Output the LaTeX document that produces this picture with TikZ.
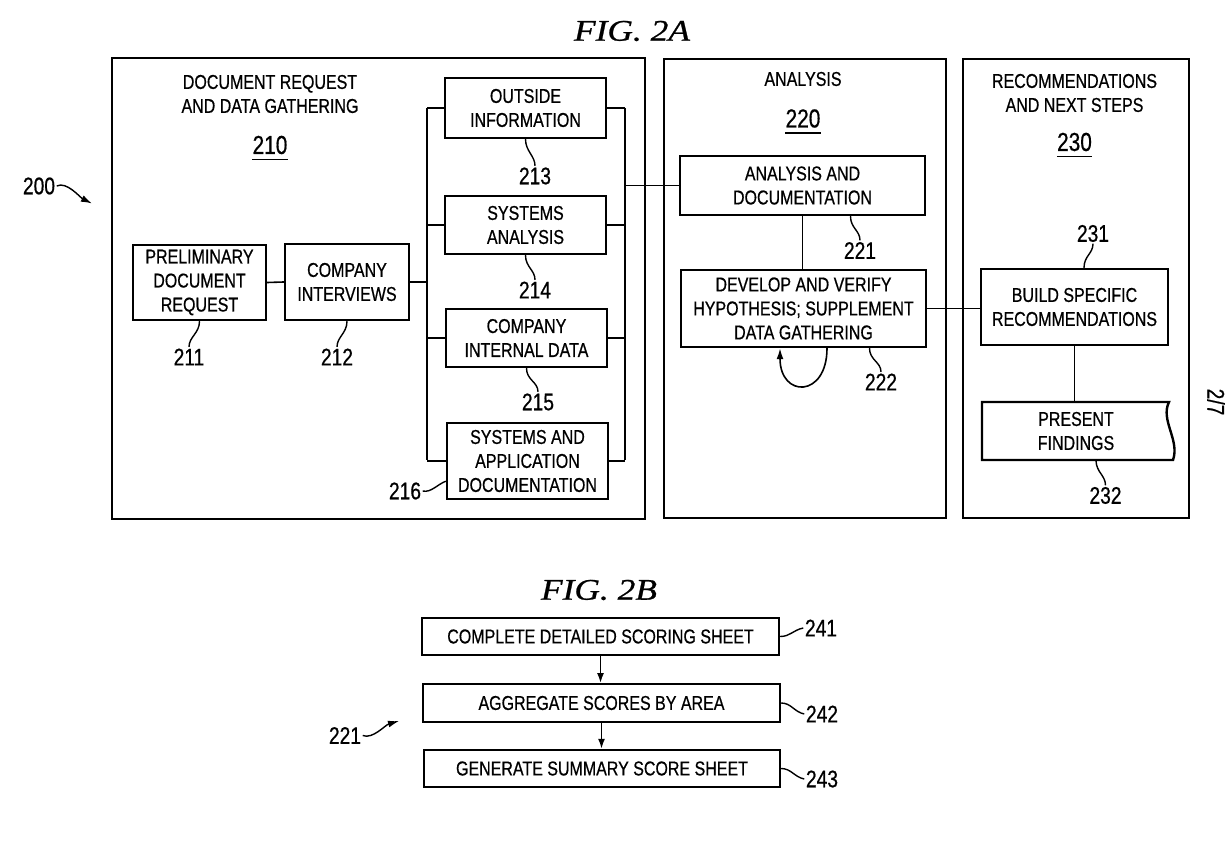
\documentclass[tikz,border=0pt]{standalone}
\usepackage{fontspec}
\setmainfont{Liberation Sans}[FakeStretch=0.8,FakeBold=0.6]
\newfontfamily\figfont{Liberation Serif}[FakeStretch=1.18,FakeBold=0.8]
\usetikzlibrary{arrows.meta,calc}
\begin{document}
\begin{tikzpicture}[x=1pt,y=-1pt,
  txt/.style={font=\fontsize{20}{24}\selectfont, align=center},
  box/.style={txt, draw, line width=2.4pt, inner sep=0pt},
  outer/.style={draw, line width=2.8pt},
  lbl/.style={font=\fontsize{24}{28}\selectfont, inner sep=1.5pt},
  ulbl/.style={font=\fontsize{26}{30}\selectfont, inner sep=0pt},
  conn/.style={line width=1.6pt},
  lead/.style={line width=1.4pt},
  tip/.style={-{Latex[length=10pt,width=7pt]}},
  fig/.style={font=\figfont\itshape\fontsize{30}{34}\selectfont, inner sep=0pt}]
\useasboundingbox (0,0) rectangle (1230,858);
\fill[white] (0,0) rectangle (1230,858);

% ---------- FIG. 2A ----------
\node[fig] (fig2a) at (632,31) {FIG. 2A};

\draw[outer] (112,58) rectangle (645,519);
\draw[outer] (664,59) rectangle (946,518);
\draw[outer] (963,59) rectangle (1189,518);

% column 210
\node[txt] (h210) at (270,94) {DOCUMENT REQUEST\\AND DATA GATHERING};
\node[ulbl] (n210) at (270,145) {210};
\draw[conn] ([yshift=-5pt]n210.south west) -- ([yshift=-5pt]n210.south east);

\node[box, minimum width=133, minimum height=75] (b211) at (199.5,282.5) {PRELIMINARY\\DOCUMENT\\REQUEST};
\node[box, minimum width=124, minimum height=76] (b212) at (347,282) {COMPANY\\INTERVIEWS};
\node[box, minimum width=161, minimum height=60] (b213) at (525.5,108) {OUTSIDE\\INFORMATION};
\node[box, minimum width=161, minimum height=58] (b214) at (525.5,225) {SYSTEMS\\ANALYSIS};
\node[box, minimum width=161, minimum height=58] (b215) at (526.5,338) {COMPANY\\INTERNAL DATA};
\node[box, minimum width=161, minimum height=76] (b216) at (527.5,461) {SYSTEMS AND\\APPLICATION\\DOCUMENTATION};

% column 220
\node[txt] (h220) at (803,79) {ANALYSIS};
\node[ulbl] (n220) at (803,118.5) {220};
\draw[conn] ([yshift=-5pt]n220.south west) -- ([yshift=-5pt]n220.south east);
\node[box, minimum width=245, minimum height=59] (b221) at (802.5,185.5) {ANALYSIS AND\\DOCUMENTATION};
\node[box, minimum width=245, minimum height=77] (b222) at (803.5,308.5) {DEVELOP AND VERIFY\\HYPOTHESIS; SUPPLEMENT\\DATA GATHERING};

% column 230
\node[txt] (h230) at (1074.5,93) {RECOMMENDATIONS\\AND NEXT STEPS};
\node[ulbl] (n230) at (1074.5,142) {230};
\draw[conn] ([yshift=-5pt]n230.south west) -- ([yshift=-5pt]n230.south east);
\node[box, minimum width=187, minimum height=76] (b231) at (1074.5,307) {BUILD SPECIFIC\\RECOMMENDATIONS};
\node[txt, minimum width=188, minimum height=58, inner sep=0pt] (b232) at (1076,431) {PRESENT\\FINDINGS};
\draw[line width=2.4pt] (982,402) -- (1169,402) .. controls (1160,420) and (1180,440) .. (1173,460) -- (982,460) -- cycle;

% bus connectors
\coordinate (lt) at (427,108);
\coordinate (lb) at (427,460);
\coordinate (rt) at (625,108);
\coordinate (rb) at (625,460);
\draw[conn] (b211.east) -- (b212.west);
\draw[conn] (b212.east) -- (b212.east -| lt);
\draw[conn] (lt) -- (lb);
\draw[conn] (rt) -- (rb);
\foreach \b in {b213,b214,b215,b216}{
  \draw[conn] (\b.west) -- (\b.west -| lt);
  \draw[conn] (\b.east) -- (\b.east -| rt);
}
\draw[conn] (b221.west) -- (b221.west -| rt);
\draw[conn] (b221.south) -- (b221.south |- b222.north);
\draw[conn] (b222.east) -- (b222.east -| b231.west);
\draw[conn] (b231.south) -- (b231.south |- b232.north);
\draw[conn, -{Latex[length=11pt,width=7pt]}] ($(b222.south)+(23.5,0)$) .. controls +(0,50) and +(0,50) .. ($(b222.south)+(-23.5,0)$);

% reference labels
\node[lbl] (l211) at (189,357) {211};
\node[lbl] (l212) at (337,357) {212};
\node[lbl] (l213) at (535,176) {213};
\node[lbl] (l214) at (535,290) {214};
\node[lbl] (l215) at (538,402) {215};
\node[lbl] (l216) at (405,491) {216};
\node[lbl] (l221) at (860,250.5) {221};
\node[lbl] (l222) at (881,382) {222};
\node[lbl] (l231) at (1093,233.5) {231};
\node[lbl] (l232) at (1105.5,495.5) {232};
\node[lbl] (l200) at (39,186) {200};
\coordinate (a200) at (92,203.5);

\draw[lead] (b211.south) .. controls +(0,12) and +(0,-10) .. (l211.north);
\draw[lead] (b212.south) .. controls +(0,12) and +(0,-10) .. (l212.north);
\draw[lead] (b213.south) .. controls +(0,12) and +(0,-10) .. (l213.north);
\draw[lead] (b214.south) .. controls +(0,12) and +(0,-10) .. (l214.north);
\draw[lead] (b215.south) .. controls +(0,12) and +(0,-10) .. (l215.north);
\draw[lead] (l216.east) .. controls +(8,2) and +(-8,3) .. ($(b216.south west)+(0,-19)$);
\draw[lead] ($(b221.south)+(48,0)$) .. controls +(0,12) and +(0,-10) .. (l221.north);
\draw[lead] ($(b222.south)+(66,0)$) .. controls +(0,12) and +(0,-10) .. (l222.north);
\draw[lead] (l231.south) .. controls +(0,10) and +(0,-12) .. ($(b231.north)+(9.5,0)$);
\draw[lead] ($(b232.south)+(20,0)$) .. controls +(0,12) and +(0,-10) .. (l232.north);
\draw[lead, -{Latex[length=11pt,width=7pt]}] (l200.east) .. controls +(10,-5) and +(-12,-6) .. (a200);

% page number
\node[lbl, rotate=-90] (pg) at (1216,402) {2/7};

% ---------- FIG. 2B ----------
\node[fig] (fig2b) at (599,590) {FIG. 2B};
\node[box, minimum width=357, minimum height=37] (b241) at (600.5,636.5) {COMPLETE DETAILED SCORING SHEET};
\node[box, minimum width=357, minimum height=37.5] (b242) at (601.5,703) {AGGREGATE SCORES BY AREA};
\node[box, minimum width=356, minimum height=37] (b243) at (602,768.5) {GENERATE SUMMARY SCORE SHEET};
\draw[conn, tip] (b241.south) -- (b241.south |- b242.north);
\draw[conn, tip] (b242.south) -- (b242.south |- b243.north);

\node[lbl] (l241) at (821,628) {241};
\node[lbl] (l242) at (822,714) {242};
\node[lbl] (l243) at (822,779) {243};
\draw[lead] (b241.east) .. controls +(10,0) and +(-10,2) .. (l241.west);
\draw[lead] (b242.east) .. controls +(10,0) and +(-10,-2) .. (l242.west);
\draw[lead] (b243.east) .. controls +(10,0) and +(-10,-2) .. (l243.west);

\node[lbl] (l221b) at (345,735.5) {221};
\coordinate (a221) at (399,721);
\draw[lead, -{Latex[length=11pt,width=7pt]}] (l221b.east) .. controls +(10,4) and +(-14,4) .. (a221);
\end{tikzpicture}
\end{document}
